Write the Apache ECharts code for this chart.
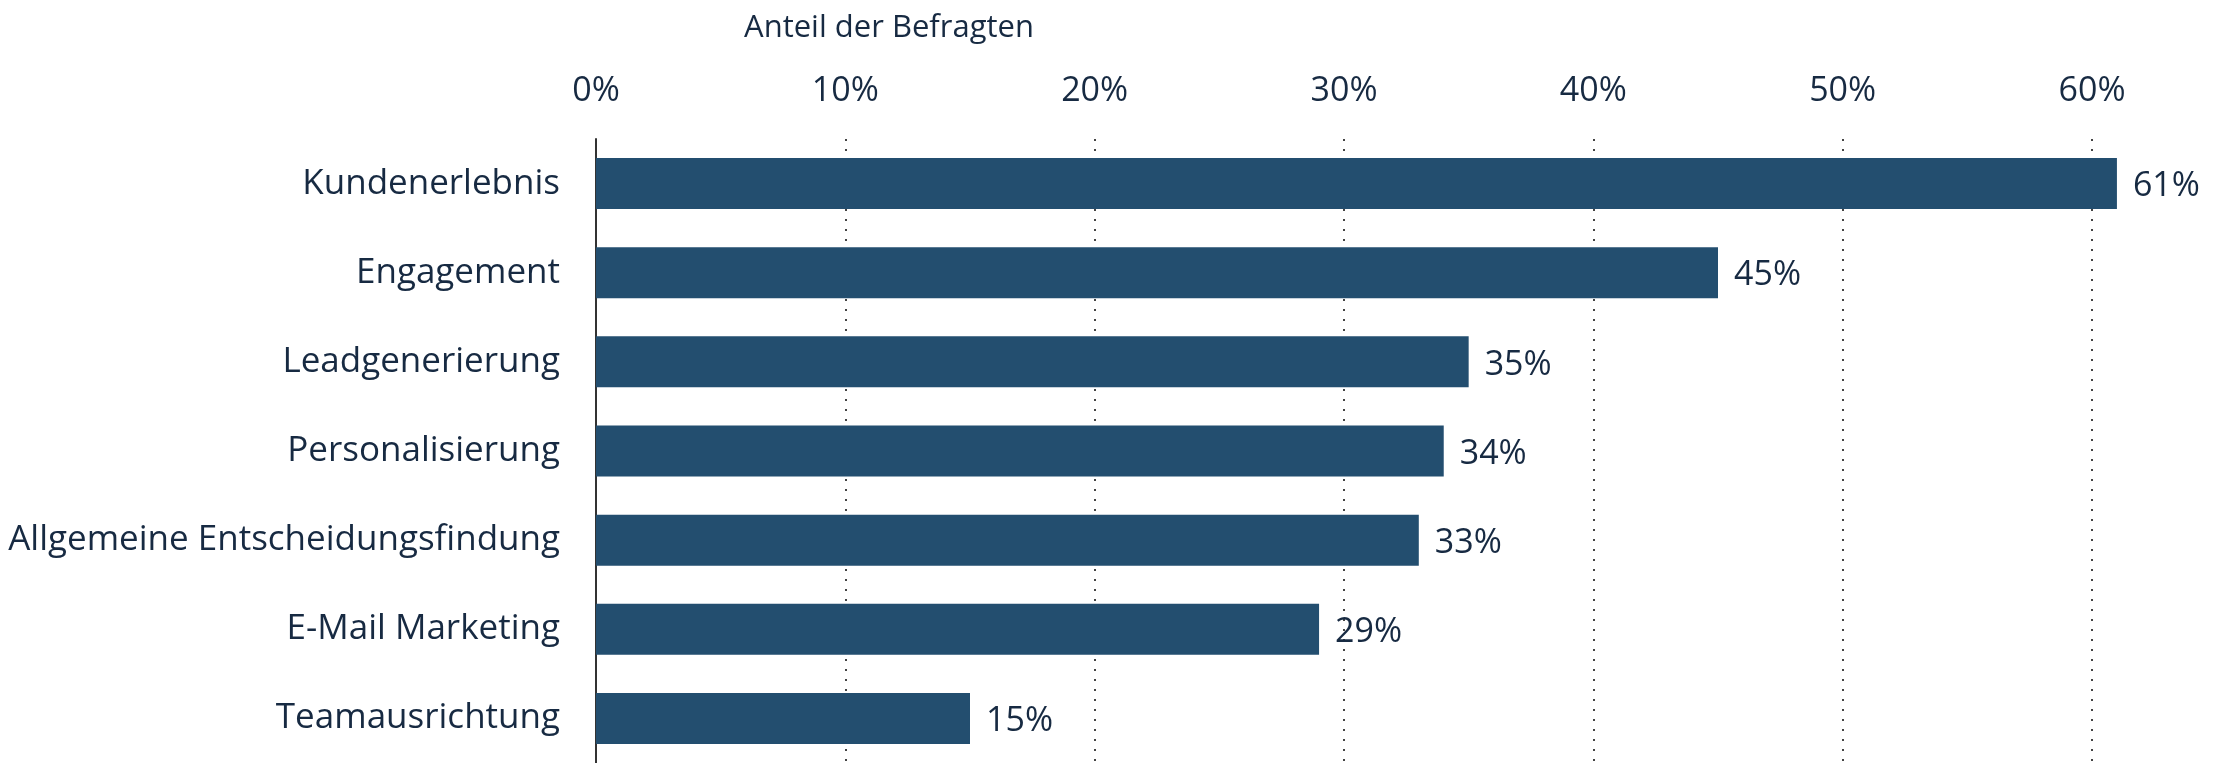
<!DOCTYPE html>
<html>
<head>
<meta charset="utf-8">
<script src="https://cdn.jsdelivr.net/npm/echarts@6/dist/echarts.min.js"></script>
<style>
  html, body { margin: 0; padding: 0; background: #fff; }
  #chart { width: 2223px; height: 763px; }
</style>
</head>
<body>
<div id="chart"></div>
<script>
const categories = [
  'Kundenerlebnis',
  'Engagement',
  'Leadgenerierung',
  'Personalisierung',
  'Allgemeine Entscheidungsfindung',
  'E-Mail Marketing',
  'Teamausrichtung'
];
const shares = [61, 45, 35, 34, 33, 29, 15];
const axisTitle = 'Anteil der Befragten';

const textColor = '#172a42';
const barColor = '#234e6f';
const font = 'Open Sans';

const chart = echarts.init(document.getElementById('chart'));

chart.setOption({
  animation: false,
  textStyle: { fontFamily: font },
  title: {
    text: axisTitle,
    left: 884,
    top: 8,
    textAlign: 'center',
    textStyle: { fontFamily: font, fontSize: 31, fontWeight: 'normal', color: textColor }
  },
  grid: { left: 596, right: 131, top: 139, bottom: 0 },
  xAxis: {
    type: 'value',
    position: 'top',
    min: 0,
    max: 60,
    interval: 10,
    axisLine: { show: false },
    axisTick: { show: false },
    axisLabel: {
      formatter: '{value}%',
      fontSize: 34,
      color: textColor,
      margin: 31
    },
    splitLine: {
      show: true,
      lineStyle: { type: [2, 8], color: '#444', width: 2 }
    }
  },
  yAxis: {
    type: 'category',
    data: categories,
    inverse: true,
    axisTick: { show: false },
    axisLine: { show: true, lineStyle: { color: '#333', width: 2 } },
    axisLabel: { fontSize: 35, color: textColor, margin: 36, padding: [6, 0, 0, 0] }
  },
  series: [{
    type: 'bar',
    data: shares,
    barWidth: 51,
    clip: false,
    itemStyle: { color: barColor },
    label: {
      show: true,
      position: 'right',
      distance: 16,
      offset: [0, 3],
      formatter: '{c}%',
      fontSize: 34,
      color: textColor
    }
  }]
});
</script>
</body>
</html>
